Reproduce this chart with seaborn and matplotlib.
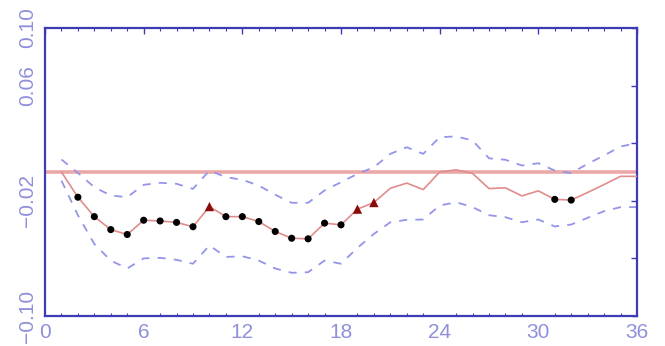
import numpy as np
import pandas as pd
import matplotlib
matplotlib.use("Agg")
import matplotlib.pyplot as plt
import seaborn as sns
from matplotlib.ticker import MultipleLocator

# Impulse response by horizon, with its error band
horizon = list(range(1, 37))
response = [0.000, -0.0175, -0.031, -0.040, -0.0434, -0.0335, -0.034, -0.035, -0.038,
            -0.024, -0.031, -0.031, -0.0344, -0.0413, -0.046, -0.0464, -0.0355, -0.0367,
            -0.0258, -0.0212, -0.0113, -0.0077, -0.0122, 0.000, 0.0015, -0.001,
            -0.0115, -0.011, -0.0166, -0.0131, -0.019, -0.0195, -0.0142, -0.0087,
            -0.003, -0.003]
upper = [0.0087, -0.0006, -0.0106, -0.0163, -0.0175, -0.0089, -0.0075, -0.0082, -0.0117,
         0.001, -0.0036, -0.0054, -0.0094, -0.0158, -0.0214, -0.0214, -0.0128, -0.0071,
         -0.0013, 0.0033, 0.0126, 0.0172, 0.0126, 0.0242, 0.0247, 0.0219,
         0.0095, 0.0085, 0.0045, 0.0061, 0.001, -0.0008, 0.0057, 0.0115, 0.0177, 0.020]
lower = [-0.006, -0.030, -0.050, -0.0615, -0.067, -0.060, -0.0596, -0.061, -0.0637,
         -0.051, -0.059, -0.0585, -0.0615, -0.067, -0.070, -0.0696, -0.0615, -0.0637,
         -0.0527, -0.043, -0.0349, -0.0332, -0.033, -0.0233, -0.021, -0.0244,
         -0.030, -0.0314, -0.0349, -0.033, -0.0378, -0.0365, -0.0318, -0.0272,
         -0.0244, -0.0244]
dot_horizons = [2, 3, 4, 5, 6, 7, 8, 9, 11, 12, 13, 14, 15, 16, 17, 18, 31, 32]
tri_horizons = [10, 19, 20]

y_ticks = [-0.10, -0.06, -0.02, 0.02, 0.06, 0.10]
y_labels = ["\u22120.10", "", "\u22120.02", "", "0.06", "0.10"]
x_ticks = [0, 6, 12, 18, 24, 30, 36]

df = pd.DataFrame({"h": horizon, "resp": response, "up": upper, "lo": lower})
dots = df[df["h"].isin(dot_horizons)]
tris = df[df["h"].isin(tri_horizons)]

sns.set_style("white")
plt.rcParams["font.family"] = ["Liberation Sans", "DejaVu Sans"]

axis_col = "#3c3cb4"
label_col = "#9090da"
band_col = "#9494ea"
line_col = "#e08c8c"

fig = plt.figure(figsize=(6.65, 3.46), dpi=100)
ax = fig.add_axes([45 / 665, 30 / 346, 592 / 665, 288 / 346])

ax.axhline(0, color="#eaa8a8", lw=2.6, zorder=1)
sns.lineplot(data=df, x="h", y="up", ax=ax, color=band_col, lw=1.3,
             dashes=False, linestyle=(0, (4.5, 4.5)), zorder=2)
sns.lineplot(data=df, x="h", y="lo", ax=ax, color=band_col, lw=1.3,
             dashes=False, linestyle=(0, (4.5, 4.5)), zorder=2)
sns.lineplot(data=df, x="h", y="resp", ax=ax, color=line_col, lw=1.2, zorder=3)
sns.scatterplot(data=dots, x="h", y="resp", ax=ax, color="black", s=26,
                edgecolor="none", marker="o", zorder=4)
sns.scatterplot(data=tris, x="h", y="resp", ax=ax, color="#8b0a0a", s=45,
                edgecolor="none", marker="^", zorder=4)

ax.set_xlim(0, 36)
ax.set_ylim(-0.10, 0.10)
ax.set_xticks(x_ticks)
ax.set_xticklabels([str(t) for t in x_ticks])
ax.xaxis.set_minor_locator(MultipleLocator(1))
ax.set_yticks(y_ticks)
ax.set_yticklabels(y_labels, rotation=90, va="center")
ax.set_xlabel("")
ax.set_ylabel("")

for sp in ax.spines.values():
    sp.set_color(axis_col)
    sp.set_linewidth(1.6)

ax.tick_params(axis="both", which="major", direction="in", top=True, right=True,
               color=axis_col, width=1.0, length=4, labelcolor=label_col,
               labelsize=15)
ax.tick_params(axis="x", which="minor", direction="in", top=True, bottom=True,
               color=axis_col, width=0.8, length=2.5)
ax.tick_params(axis="x", which="major", pad=5)
ax.tick_params(axis="y", which="major", pad=6)

fig.savefig("out.png", dpi=100, facecolor="white")
